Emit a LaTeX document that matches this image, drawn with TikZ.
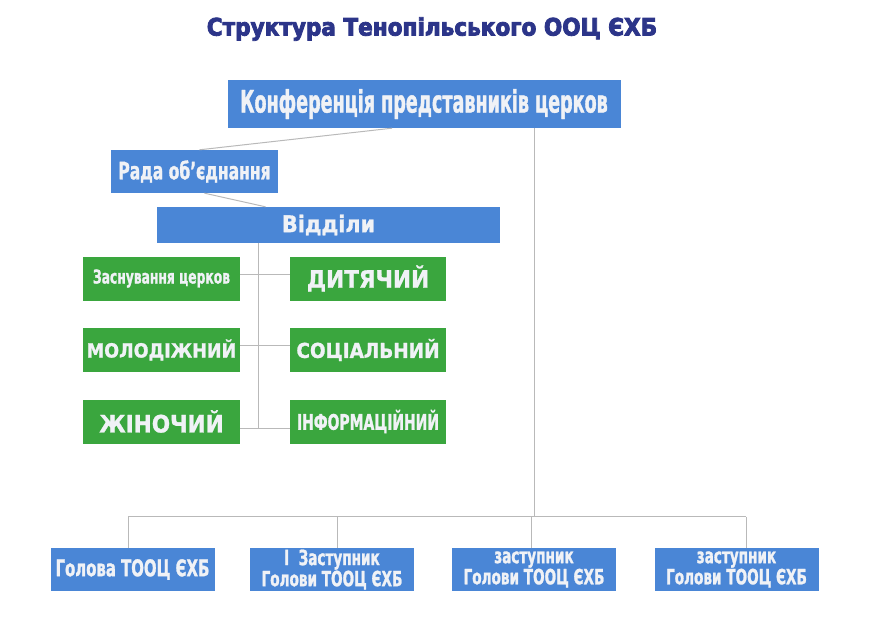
\documentclass[tikz,border=0pt]{standalone}
\usepackage{fontspec}
\newfontfamily\wideface[FakeBold=1.2]{DejaVu Sans Condensed Bold}
\newfontfamily\narrowface[FakeStretch=0.72, FakeBold=1.2]{DejaVu Sans Condensed Bold}
\newfontfamily\confface[FakeStretch=0.63, FakeBold=1.2]{DejaVu Sans Condensed Bold}
\newfontfamily\titleface[FakeBold=3.5]{DejaVu Sans Condensed Bold}
\usetikzlibrary{positioning}
\definecolor{boxblue}{RGB}{74,134,214}
\definecolor{boxgreen}{RGB}{58,166,62}
\definecolor{titlenavy}{RGB}{44,53,137}
\definecolor{linkgray}{RGB}{185,185,185}
\definecolor{boxtext}{RGB}{240,242,246}
\tikzset{
  bluebox/.style={fill=boxblue, text=boxtext, inner sep=0pt, align=center},
  greenbox/.style={fill=boxgreen, text=boxtext, inner sep=0pt, minimum height=44pt},
  headbox/.style={bluebox, minimum width=164pt, minimum height=43pt},
  link/.style={draw=linkgray, line width=1pt}
}
\begin{document}
\begin{tikzpicture}[x=1pt, y=-1pt]
  \useasboundingbox (0,0) rectangle (877,620);
  \node[text=titlenavy, font=\titleface\fontsize{24}{28}\selectfont] (title) at (432, 29) {Структура Тенопільського ООЦ ЄХБ};
  % upper part
  \node[bluebox, minimum width=393pt, minimum height=48pt, font=\confface\fontsize{31}{36}\selectfont] (conf) at (424, 104) {Конференція представників церков};
  \node[bluebox, minimum width=167pt, minimum height=43pt, font=\narrowface\fontsize{24}{26}\selectfont] (rada) at (194.5, 171.5) {Рада об’єднання};
  \node[bluebox, minimum width=343pt, minimum height=36pt, font=\wideface\fontsize{23}{26}\selectfont] (viddily) at (328.5, 225) {Відділи};
  % departments
  \node[greenbox, minimum width=157pt, font=\narrowface\fontsize{19}{21}\selectfont] (zasn) at (161.5, 278.5) {Заснування церков};
  \node[greenbox, minimum width=157pt, font=\wideface\fontsize{19.5}{22}\selectfont] (molod) at (161.5, 350) {МОЛОДІЖНИЙ};
  \node[greenbox, minimum width=157pt, font=\wideface\fontsize{24}{26}\selectfont] (zhin) at (161.5, 421.5) {ЖІНОЧИЙ};
  \node[greenbox, minimum width=156pt, font=\wideface\fontsize{24}{26}\selectfont] (dyt) at (368, 278.5) {ДИТЯЧИЙ};
  \node[greenbox, minimum width=156pt, font=\wideface\fontsize{20.5}{22}\selectfont] (soc) at (368, 350) {СОЦІАЛЬНИЙ};
  \node[greenbox, minimum width=156pt, font=\narrowface\fontsize{21.5}{24}\selectfont] (info) at (368, 421.5) {ІНФОРМАЦІЙНИЙ};
  % leaders
  \node[headbox, font=\narrowface\fontsize{23}{26}\selectfont] (head) at (132.5, 569.5) {Голова ТООЦ ЄХБ};
  \node[headbox, font=\narrowface\fontsize{21}{20}\selectfont] (dep1) at (332, 569.5) {І\ \ Заступник\\Голови ТООЦ ЄХБ};
  \node[headbox, font=\narrowface\fontsize{21}{20}\selectfont] (dep2) at (534, 569.5) {заступник\\Голови ТООЦ ЄХБ};
  \node[headbox, font=\narrowface\fontsize{21}{20}\selectfont] (dep3) at (736.5, 569.5) {заступник\\Голови ТООЦ ЄХБ};
  % connectors
  \draw[link] ([xshift=-32pt]conf.south) -- ([xshift=5pt]rada.north);
  \draw[link] ([xshift=10pt]rada.south) -- ([xshift=-63pt]viddily.north);
  \coordinate (trunk) at ([xshift=-70pt]viddily.south);
  \coordinate (row3) at ([yshift=-6.5pt]zhin.east);
  \draw[link] (trunk) -- (trunk |- row3);
  \draw[link] ([yshift=4pt]zasn.east) -- ([yshift=4pt]dyt.west);
  \draw[link] ([yshift=5pt]molod.east) -- ([yshift=5pt]soc.west);
  \draw[link] (row3) -- ([yshift=-6.5pt]info.west);
  \coordinate (confR) at ([xshift=110pt]conf.south);
  \coordinate (busL) at ([xshift=-4.5pt, yshift=31pt]head.north);
  \coordinate (busR) at ([xshift=9.5pt, yshift=31pt]dep3.north);
  \draw[link] (confR) -- (confR |- busL);
  \draw[link] (busL) -- (busR);
  \draw[link] (busL) -- (busL |- head.north);
  \draw[link] ([xshift=5pt]dep1.north) -- ++(0,-31);
  \draw[link] ([xshift=-3pt]dep2.north) -- ++(0,-31);
  \draw[link] (busR) -- (busR |- dep3.north);
\end{tikzpicture}
\end{document}
